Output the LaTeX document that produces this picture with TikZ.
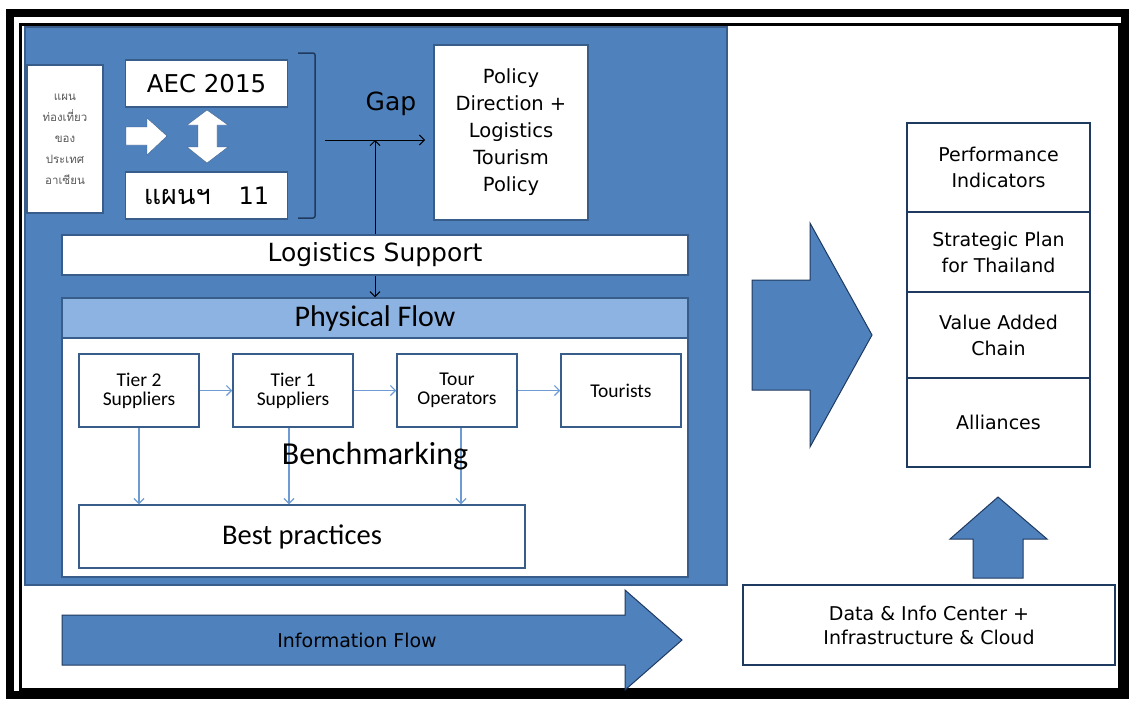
\documentclass[tikz,border=0pt]{standalone}
\usepackage{fontspec}
\setmainfont{DejaVu Sans}
\newfontfamily\calfont{Carlito}
\newfontfamily\thaifont[Script=Thai]{Loma}
\usetikzlibrary{arrows.meta}
\definecolor{panelblue}{HTML}{4F81BD}
\definecolor{paneledge}{HTML}{385D8A}
\definecolor{headblue}{HTML}{8DB3E2}
\definecolor{flowblue}{HTML}{6E9BD3}
\definecolor{navy}{HTML}{1F3A5F}
\definecolor{thaigray}{HTML}{595959}

\begin{document}
\begin{tikzpicture}[x=1pt,y=-1pt,>={Straight Barb[length=5pt,width=10pt]},
  box/.style={draw=paneledge,fill=white,line width=1.5pt,inner sep=0pt,align=center},
  tier/.style={box,minimum width=120pt,minimum height=73pt,font=\calfont\fontsize{19.5}{19}\selectfont},
  cell/.style={draw=navy,fill=white,line width=2pt,minimum width=183pt,inner sep=0pt,align=center,font=\fontsize{19}{26}\selectfont},
  blockarrow/.style={fill=panelblue,draw=navy,line width=1pt},
  link/.style={->,black,line width=1pt},
  flow/.style={->,flowblue,line width=1.2pt}]
  \useasboundingbox[fill=white] (0,0) rectangle (1129,702);
  \draw[line width=8pt] (10,13) rectangle (1125,695);
  \draw[line width=3pt] (20.5,24) rectangle (1119,689);
  \filldraw[fill=panelblue,draw=paneledge,line width=2pt] (25,27) rectangle (727,585);

  \node[box,minimum width=76pt,minimum height=148pt,text=thaigray,font=\thaifont\fontsize{11.5}{21}\selectfont] (thai) at (65,139) {แผน\\ท่องเที่ยว\\ของ\\ประเทศ\\อาเซียน};
  \node[box,minimum width=162pt,minimum height=47pt,font=\fontsize{24.5}{26}\selectfont] (aec) at (206.5,83.5) {AEC 2015};
  \node[box,minimum width=162pt,minimum height=47pt,font=\fontsize{24}{26}\selectfont] (plan) at (206.5,195.5) {{\thaifont\fontsize{27}{28}\selectfont แผนฯ}\hspace{28pt}11};
  \filldraw[fill=white,draw=paneledge] (126,127) -- (147,127) -- (147,118) -- (167,136) -- (147,155) -- (147,145) -- (126,145) -- cycle;
  \filldraw[fill=white,draw=paneledge] (207,110) -- (228,125) -- (217,125) -- (217,147) -- (228,147) -- (207,163) -- (187,147) -- (198,147) -- (198,125) -- (187,125) -- cycle;
  \draw[navy,line width=1.5pt,rounded corners=2pt] (298,53) -- (315,53) -- (315,218) -- (298,218);

  \node[font=\fontsize{25}{26}\selectfont] (gap) at (391,104) {Gap};
  \node[box,minimum width=154pt,minimum height=175pt,font=\fontsize{19.5}{27}\selectfont] (pol) at (511,132.5) {Policy\\Direction +\\Logistics\\Tourism\\Policy};
  \coordinate (gapl) at (325,140);
  \coordinate (gapr) at (425,140);
  \node[box,minimum width=626pt,minimum height=40pt,font=\fontsize{25}{26}\selectfont] (logs) at (375,255) {Logistics Support};
  \node[box,fill=headblue,minimum width=626pt,minimum height=40pt,font=\calfont\fontsize{30}{30}\selectfont] (phys) at (375,318) {Physical Flow};
  \node[box,minimum width=626pt,minimum height=239pt] (body) at (375,457.5) {};
  \draw[link] (gapl) -- (gapr);
  \draw[link] (logs.north) -- (logs.north |- gapl);
  \draw[link] (logs.south) -- (phys.north);

  \node[tier] (t2) at (139,390.5) {Tier 2\\Suppliers};
  \node[tier] (t1) at (293,390.5) {Tier 1\\Suppliers};
  \node[tier] (op) at (457,390.5) {Tour\\Operators};
  \node[tier] (tour) at (621,390.5) {Tourists};
  \node[box,minimum width=446pt,minimum height=63pt,font=\calfont\fontsize{28.5}{28}\selectfont] (best) at (302,536.5) {Best practices};
  \path[flow] (t2) edge (t1) (t1) edge (op) (op) edge (tour);
  \draw[flow] (t2.south) -- (t2.south |- best.north);
  \draw[flow] ([xshift=-4pt]t1.south) -- ([xshift=-4pt]t1.south |- best.north);
  \draw[flow] ([xshift=4pt]op.south) -- ([xshift=4pt]op.south |- best.north);
  \node[font=\calfont\fontsize{32}{30}\selectfont] (bench) at (375,456) {Benchmarking};

  \filldraw[blockarrow] (752,280) -- (810,280) -- (810,223) -- (872,335) -- (810,447) -- (810,390) -- (752,390) -- cycle;
  \node[cell,minimum height=89pt] (perf) at (998.5,167.5) {Performance\\Indicators};
  \node[cell,minimum height=80pt] (strat) at (998.5,252) {Strategic Plan\\for Thailand};
  \node[cell,minimum height=86pt] (value) at (998.5,335) {Value Added\\Chain};
  \node[cell,minimum height=89pt] (alli) at (998.5,422.5) {Alliances};
  \filldraw[blockarrow] (973,578) -- (973,539) -- (950,539) -- (998,497) -- (1047,539) -- (1023,539) -- (1023,578) -- cycle;
  \node[cell,minimum width=372pt,minimum height=80pt,font=\fontsize{19}{24}\selectfont] (data) at (929,625) {Data \& Info Center +\\Infrastructure \& Cloud};
  \filldraw[blockarrow] (62,615) -- (625,615) -- (625,590) -- (682,640) -- (625,690) -- (625,665) -- (62,665) -- cycle;
  \node[font=\fontsize{19}{20}\selectfont] (info) at (357,640) {Information Flow};
\end{tikzpicture}
\end{document}
